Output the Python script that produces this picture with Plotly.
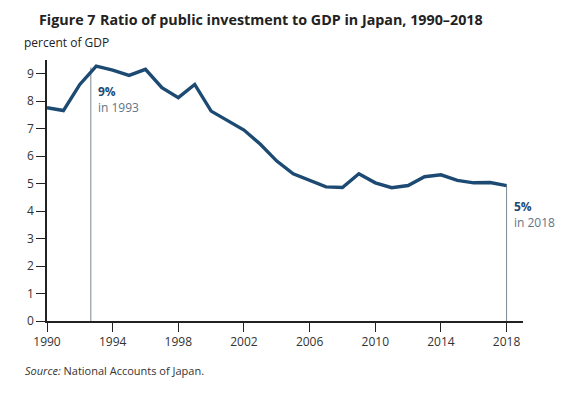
import plotly.graph_objects as go

years = list(range(1990, 2019))
ratio = [7.76, 7.66, 8.61, 9.28, 9.13, 8.94, 9.16, 8.49, 8.13, 8.61,
         7.64, 7.30, 6.95, 6.43, 5.82, 5.36, 5.13, 4.88, 4.86, 5.36,
         5.03, 4.85, 4.93, 5.25, 5.32, 5.12, 5.03, 5.04, 4.93]
x_ticks = [1990, 1994, 1998, 2002, 2006, 2010, 2014, 2018]
y_ticks = list(range(0, 10))

LINE = "#1d4a72"
GRAY = "#7d8891"
SUB = "#5f7486"
FONT = "Open Sans"

fig = go.Figure()
fig.add_trace(go.Scatter(x=years, y=ratio, mode="lines",
                         line=dict(color=LINE, width=3.4), hoverinfo="skip"))

# marker lines
fig.add_shape(type="line", x0=1992.67, x1=1992.67, y0=0, y1=ratio[3] - 0.05,
              line=dict(color=GRAY, width=1), layer="below")
fig.add_shape(type="line", x0=2018, x1=2018, y0=0, y1=ratio[-1],
              line=dict(color=GRAY, width=1), layer="below")

fig.add_annotation(x=1993.0, y=8.06,
                   text=f"<b style='color:{LINE}'>9%</b><br>in 1993",
                   showarrow=False, xanchor="left", yanchor="middle", align="left",
                   font=dict(family=FONT, size=12, color=SUB))
fig.add_annotation(x=2018.35, y=3.88,
                   text=f"<b style='color:{LINE}'>5%</b><br>in 2018",
                   showarrow=False, xanchor="left", yanchor="middle", align="left",
                   font=dict(family=FONT, size=12, color=SUB))

fig.add_annotation(xref="paper", yref="paper", x=-0.052, y=1.157, xshift=15,
                   xanchor="left", yanchor="middle", align="left", showarrow=False,
                   text="<b>Figure 7</b>",
                   font=dict(family=FONT, size=14.3, color="#222222"))
fig.add_annotation(xref="paper", yref="paper", x=0.1, y=1.157, xshift=3,
                   xanchor="left", yanchor="middle", align="left", showarrow=False,
                   text="<b>Ratio of public investment to GDP in Japan, 1990\u20132018</b>",
                   font=dict(family=FONT, size=14.3, color="#222222"))

fig.add_annotation(xref="paper", yref="paper", x=-0.052, y=1.067,
                   xanchor="left", yanchor="middle", align="left", showarrow=False,
                   text="percent of GDP",
                   font=dict(family=FONT, size=12, color="#222222"))

fig.add_annotation(xref="paper", yref="paper", x=-0.05, y=-0.19,
                   xanchor="left", yanchor="middle", align="left", showarrow=False,
                   text="<i>Source:</i> National Accounts of Japan.",
                   font=dict(family=FONT, size=11, color="#333333"))

fig.update_layout(
    width=569, height=393,
    margin=dict(l=47, r=46, t=60, b=72, autoexpand=False),
    paper_bgcolor="white", plot_bgcolor="white",
    showlegend=False,
    xaxis=dict(range=[1990, 2019], tickvals=x_ticks, showgrid=False,
               zeroline=False, showline=True, linecolor="#222222", linewidth=1.5,
               ticks="outside", ticklen=9, tickcolor="#222222", tickwidth=1.2,
               tickfont=dict(family=FONT, size=12, color="#333333")),
    yaxis=dict(range=[0, 9.5], tickvals=y_ticks, showgrid=False,
               zeroline=False, showline=True, linecolor="#222222", linewidth=1.5,
               ticks="outside", ticklen=9, tickcolor="#222222", tickwidth=1.2,
               ticksuffix="  ",
               tickfont=dict(family=FONT, size=12, color="#333333")),
)

fig.write_html("out.html", config={"displayModeBar": False},
               post_script="document.body.style.margin='0';document.body.style.padding='0';")
